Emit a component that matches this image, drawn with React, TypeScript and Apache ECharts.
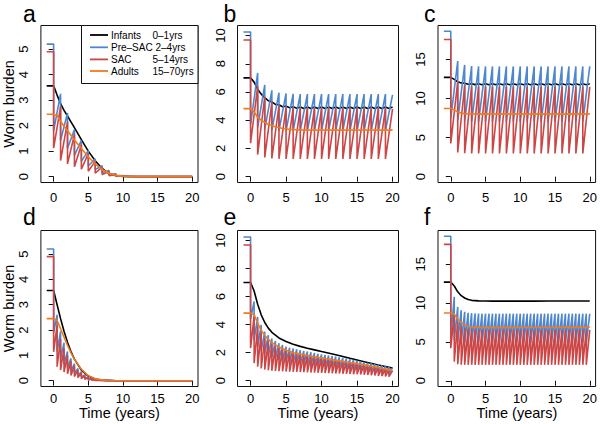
import React, { useEffect, useRef } from 'react';
import * as echarts from 'echarts';

// ---------- axes ----------
const X_TICKS = [0, 5, 10, 15, 20];
const Y_TICKS_SMALL = [0, 1, 2, 3, 4, 5];
const Y_TICKS_MID = [0, 2, 4, 6, 8, 10];
const Y_TICKS_BIG = [0, 5, 10, 15];

// time grid for smooth curves (years)
const T_SMOOTH = [0, 0.5, 1, 1.5, 2, 2.5, 3, 4, 5, 6, 7, 8, 9, 10, 12, 14, 16, 18, 20];
// half-year grid for curves with annual ripples
const T_HALF = [0, 0.5, 1, 1.5, 2, 2.5, 3, 3.5, 4, 4.5, 5, 5.5, 6, 6.5, 7, 7.5, 8, 8.5, 9, 9.5, 10, 10.5, 11, 11.5, 12, 12.5, 13, 13.5, 14, 14.5, 15, 15.5, 16, 16.5, 17, 17.5, 18, 18.5, 19, 19.5, 20];

// ---------- initial (pre-treatment) burdens: infants, preSAC, SAC, adults ----------
const INIT_LOW = [3.56, 5.2, 4.9, 2.45];
const INIT_MID = [7.0, 10.25, 9.68, 4.82];
const INIT_HIGH = [12.7, 18.6, 17.55, 8.72];

// ---------- panel a (annual treatment) ----------
const A_BLACK = [3.56, 3.2, 2.86, 2.6, 2.38, 2.15, 1.92, 1.45, 1.0, 0.62, 0.32, 0.12, 0.04, 0.01, 0, 0, 0, 0, 0];
const A_ORANGE = [2.45, 2.4, 2.17, 1.98, 1.8, 1.62, 1.44, 1.1, 0.78, 0.5, 0.28, 0.13, 0.05, 0.02, 0, 0, 0, 0, 0];
const A_BLUE_TROUGH = [1.8, 1.42, 1.1, 0.83, 0.6, 0.42, 0.28, 0.16, 0.08, 0.03, 0.01, 0, 0, 0, 0, 0, 0, 0, 0, 0];
const A_BLUE_PEAK = [3.25, 2.5, 1.85, 1.42, 1.02, 0.7, 0.43, 0.24, 0.11, 0.04, 0.01, 0, 0, 0, 0, 0, 0, 0, 0, 0];
const A_RED_TROUGH = [1.12, 0.63, 0.5, 0.39, 0.29, 0.21, 0.14, 0.08, 0.04, 0.02, 0.01, 0, 0, 0, 0, 0, 0, 0, 0, 0];
const A_RED_PEAK = [2.75, 2.15, 1.65, 1.25, 0.9, 0.6, 0.37, 0.2, 0.09, 0.03, 0.01, 0, 0, 0, 0, 0, 0, 0, 0, 0];

// ---------- panel b (annual treatment) ----------
const B_BLACK = [7.0, 6.7, 6.2, 5.85, 5.6, 5.38, 5.3, 5.12, 5.1, 4.96, 5.0, 4.88, 4.95, 4.85, 4.93, 4.83, 4.93, 4.83, 4.93, 4.83, 4.93, 4.83, 4.93, 4.83, 4.93, 4.83, 4.93, 4.83, 4.93, 4.83, 4.93, 4.83, 4.93, 4.83, 4.93, 4.83, 4.93, 4.83, 4.93, 4.83, 4.93];
const B_ORANGE = [4.82, 4.6, 4.2, 4.0, 3.85, 3.7, 3.62, 3.52, 3.48, 3.41, 3.4, 3.34, 3.36, 3.31, 3.33, 3.28, 3.33, 3.28, 3.33, 3.28, 3.33, 3.28, 3.33, 3.28, 3.33, 3.28, 3.33, 3.28, 3.33, 3.28, 3.33, 3.28, 3.33, 3.28, 3.33, 3.28, 3.33, 3.28, 3.33, 3.28, 3.32];
const B_BLUE_TROUGH = [3.7, 3.5, 3.35, 3.3, 3.27, 3.25, 3.25, 3.25, 3.25, 3.25, 3.25, 3.25, 3.25, 3.25, 3.25, 3.25, 3.25, 3.25, 3.25, 3.25];
const B_BLUE_PEAK = [7.35, 6.5, 6.12, 5.95, 5.9, 5.87, 5.85, 5.85, 5.85, 5.85, 5.85, 5.85, 5.85, 5.85, 5.85, 5.85, 5.85, 5.85, 5.85, 5.8];
const B_RED_TROUGH = [2.37, 1.57, 1.36, 1.29, 1.27, 1.26, 1.26, 1.26, 1.26, 1.26, 1.26, 1.26, 1.26, 1.26, 1.26, 1.26, 1.26, 1.26, 1.26, 1.26];
const B_RED_PEAK = [6.4, 5.65, 5.25, 5.02, 4.92, 4.87, 4.85, 4.85, 4.85, 4.85, 4.85, 4.85, 4.85, 4.85, 4.85, 4.85, 4.85, 4.85, 4.85, 4.8];

// ---------- panel c (annual treatment) ----------
const C_BLACK = [12.7, 12.45, 12.15, 12.0, 11.95, 11.82, 11.9, 11.78, 11.88, 11.77, 11.88, 11.77, 11.88, 11.77, 11.88, 11.77, 11.88, 11.77, 11.88, 11.77, 11.88, 11.77, 11.88, 11.77, 11.88, 11.77, 11.88, 11.77, 11.88, 11.77, 11.88, 11.77, 11.88, 11.77, 11.88, 11.77, 11.88, 11.77, 11.88, 11.77, 11.9];
const C_ORANGE = [8.72, 8.55, 8.28, 8.15, 8.07, 8.04, 8.05, 8.02, 8.04, 8.01, 8.04, 8.01, 8.04, 8.01, 8.04, 8.01, 8.04, 8.01, 8.04, 8.01, 8.04, 8.01, 8.04, 8.01, 8.04, 8.01, 8.04, 8.01, 8.04, 8.01, 8.04, 8.01, 8.04, 8.01, 8.04, 8.01, 8.04, 8.01, 8.04, 8.01, 8.04];
const C_BLUE_TROUGH = [7.5, 7.2, 7.1, 7.05, 7.05, 7.05, 7.05, 7.05, 7.05, 7.05, 7.05, 7.05, 7.05, 7.05, 7.05, 7.05, 7.05, 7.05, 7.05, 7.05];
const C_BLUE_PEAK = [14.8, 14.3, 14.15, 14.1, 14.1, 14.1, 14.1, 14.1, 14.1, 14.1, 14.1, 14.1, 14.1, 14.1, 14.1, 14.1, 14.1, 14.1, 14.1, 14.1];
const C_RED_TROUGH = [4.25, 3.1, 3.0, 2.98, 2.98, 2.98, 2.98, 2.98, 2.98, 2.98, 2.98, 2.98, 2.98, 2.98, 2.98, 2.98, 2.98, 2.98, 2.98, 2.98];
const C_RED_PEAK = [12.2, 11.7, 11.55, 11.5, 11.5, 11.5, 11.5, 11.5, 11.5, 11.5, 11.5, 11.5, 11.5, 11.5, 11.5, 11.5, 11.5, 11.5, 11.5, 11.5];

// ---------- panel d (six-monthly treatment) ----------
const D_BLACK = [3.56, 3.0, 2.45, 1.95, 1.52, 1.15, 0.85, 0.42, 0.18, 0.07, 0.02, 0.01, 0, 0, 0, 0, 0, 0, 0];
const D_ORANGE = [2.45, 2.38, 2.05, 1.72, 1.4, 1.1, 0.84, 0.45, 0.2, 0.08, 0.03, 0.01, 0, 0, 0, 0, 0, 0, 0];
const D_BLUE_TROUGH = [1.9, 1.15, 0.86, 0.66, 0.5, 0.39, 0.29, 0.21, 0.15, 0.1, 0.06, 0.035, 0.02, 0.01, 0, 0, 0, 0, 0, 0, 0, 0, 0, 0, 0, 0, 0, 0, 0, 0, 0, 0, 0, 0, 0, 0, 0, 0, 0, 0];
const D_BLUE_PEAK = [2.6, 1.95, 1.5, 1.15, 0.88, 0.67, 0.48, 0.35, 0.23, 0.14, 0.08, 0.04, 0.02, 0.01, 0, 0, 0, 0, 0, 0, 0, 0, 0, 0, 0, 0, 0, 0, 0, 0, 0, 0, 0, 0, 0, 0, 0, 0, 0, 0];
const D_RED_TROUGH = [1.14, 0.55, 0.42, 0.34, 0.27, 0.21, 0.16, 0.12, 0.08, 0.05, 0.03, 0.02, 0.01, 0.005, 0, 0, 0, 0, 0, 0, 0, 0, 0, 0, 0, 0, 0, 0, 0, 0, 0, 0, 0, 0, 0, 0, 0, 0, 0, 0];
const D_RED_PEAK = [2.2, 1.65, 1.28, 1.0, 0.77, 0.58, 0.42, 0.3, 0.2, 0.12, 0.07, 0.04, 0.02, 0.01, 0, 0, 0, 0, 0, 0, 0, 0, 0, 0, 0, 0, 0, 0, 0, 0, 0, 0, 0, 0, 0, 0, 0, 0, 0, 0];

// ---------- panel e (six-monthly treatment) ----------
const E_BLACK = [7.0, 6.4, 5.45, 4.7, 4.15, 3.75, 3.45, 3.05, 2.8, 2.6, 2.45, 2.32, 2.2, 2.08, 1.85, 1.6, 1.36, 1.12, 0.9];
const E_ORANGE = [4.82, 4.72, 4.1, 3.6, 3.22, 2.95, 2.72, 2.4, 2.17, 2.0, 1.9, 1.8, 1.7, 1.62, 1.45, 1.3, 1.13, 0.95, 0.72];
const E_BLUE_TROUGH = [4.4, 2.9, 2.4, 2.15, 1.95, 1.8, 1.68, 1.58, 1.5, 1.43, 1.37, 1.33, 1.29, 1.26, 1.22, 1.19, 1.16, 1.13, 1.1, 1.07, 1.04, 1.02, 0.99, 0.97, 0.94, 0.92, 0.89, 0.86, 0.83, 0.8, 0.77, 0.74, 0.71, 0.68, 0.66, 0.63, 0.6, 0.57, 0.54, 0.51];
const E_BLUE_PEAK = [5.65, 4.55, 3.98, 3.5, 3.25, 3.02, 2.83, 2.67, 2.55, 2.43, 2.36, 2.3, 2.24, 2.18, 2.12, 2.08, 2.03, 1.98, 1.93, 1.88, 1.84, 1.8, 1.76, 1.72, 1.67, 1.63, 1.58, 1.53, 1.48, 1.43, 1.38, 1.33, 1.28, 1.24, 1.19, 1.14, 1.09, 1.04, 0.98, 0.93];
const E_RED_TROUGH = [2.33, 1.26, 1.0, 0.88, 0.8, 0.75, 0.72, 0.7, 0.68, 0.67, 0.66, 0.65, 0.64, 0.63, 0.62, 0.61, 0.6, 0.59, 0.58, 0.57, 0.56, 0.55, 0.54, 0.53, 0.52, 0.51, 0.5, 0.49, 0.48, 0.47, 0.46, 0.45, 0.43, 0.41, 0.39, 0.37, 0.35, 0.33, 0.31, 0.29];
const E_RED_PEAK = [4.6, 3.85, 3.4, 3.02, 2.8, 2.6, 2.45, 2.33, 2.22, 2.12, 2.05, 1.99, 1.94, 1.89, 1.84, 1.8, 1.76, 1.72, 1.68, 1.64, 1.6, 1.56, 1.52, 1.48, 1.44, 1.4, 1.36, 1.32, 1.28, 1.24, 1.2, 1.16, 1.12, 1.07, 1.02, 0.97, 0.92, 0.87, 0.8, 0.73];

// ---------- panel f (six-monthly treatment) ----------
const F_BLACK = [12.7, 12.2, 11.45, 10.95, 10.65, 10.45, 10.35, 10.28, 10.26, 10.25, 10.25, 10.25, 10.25, 10.25, 10.25, 10.26, 10.26, 10.26, 10.27];
const F_ORANGE = [8.72, 8.55, 7.95, 7.5, 7.2, 7.02, 6.93, 6.88, 6.87, 6.87, 6.87, 6.87, 6.87, 6.88, 6.88, 6.89, 6.9, 6.9, 6.9];
const F_BLUE_TROUGH = [5.5, 5.2, 5.0, 4.95, 4.9, 4.9, 4.9, 4.9, 4.9, 4.9, 4.9, 4.9, 4.9, 4.9, 4.9, 4.9, 4.9, 4.9, 4.9, 4.9, 4.9, 4.9, 4.9, 4.9, 4.9, 4.9, 4.9, 4.9, 4.9, 4.9, 4.9, 4.9, 4.9, 4.9, 4.9, 4.9, 4.9, 4.9, 4.9, 4.9];
const F_BLUE_PEAK = [10.8, 9.5, 9.08, 8.87, 8.75, 8.7, 8.67, 8.65, 8.63, 8.63, 8.63, 8.63, 8.63, 8.63, 8.63, 8.63, 8.63, 8.63, 8.63, 8.63, 8.63, 8.63, 8.63, 8.63, 8.63, 8.63, 8.63, 8.63, 8.63, 8.63, 8.63, 8.63, 8.63, 8.63, 8.63, 8.63, 8.63, 8.63, 8.63, 8.6];
const F_RED_TROUGH = [4.18, 2.47, 2.13, 2.07, 2.05, 2.05, 2.05, 2.05, 2.05, 2.05, 2.05, 2.05, 2.05, 2.05, 2.05, 2.05, 2.05, 2.05, 2.05, 2.05, 2.05, 2.05, 2.05, 2.05, 2.05, 2.05, 2.05, 2.05, 2.05, 2.05, 2.05, 2.05, 2.05, 2.05, 2.05, 2.05, 2.05, 2.05, 2.05, 2.05];
const F_RED_PEAK = [8.6, 7.6, 7.05, 6.8, 6.7, 6.65, 6.62, 6.6, 6.58, 6.58, 6.58, 6.58, 6.58, 6.58, 6.58, 6.58, 6.58, 6.58, 6.58, 6.58, 6.58, 6.58, 6.58, 6.58, 6.58, 6.58, 6.58, 6.58, 6.58, 6.58, 6.58, 6.58, 6.58, 6.58, 6.58, 6.58, 6.58, 6.58, 6.58, 6.55];

const GROUPS = ['Infants', 'Pre–SAC', 'SAC', 'Adults'];
const AGES = ['0–1yrs', '2–4yrs', '5–14yrs', '15–70yrs'];
const COLORS = ['#000000', '#4f87cf', '#cc4646', '#f07b1e'];
const FONT = 'Liberation Sans, Arial, Helvetica, sans-serif';

function smooth(init: number, times: number[], vals: number[]) {
  return [[-1, init], ...times.map((t, i) => [t, vals[i]])];
}
function teeth(init: number, troughs: number[], peaks: number[], step: number) {
  const d: number[][] = [[-1, init], [0, init]];
  for (let i = 0; i < troughs.length; i++) {
    d.push([i * step, troughs[i]]);
    d.push([(i + 1) * step, peaks[i]]);
  }
  return d;
}

type Panel = {
  letter: string;
  init: number[];
  black: number[];
  blackT: number[];
  orange: number[];
  orangeT: number[];
  blueTr: number[];
  bluePk: number[];
  redTr: number[];
  redPk: number[];
  step: number;
  yTicks: number[];
  yMin: number;
  yMax: number;
};

const PANELS: Panel[] = [
  { letter: 'a', init: INIT_LOW, black: A_BLACK, blackT: T_SMOOTH, orange: A_ORANGE, orangeT: T_SMOOTH, blueTr: A_BLUE_TROUGH, bluePk: A_BLUE_PEAK, redTr: A_RED_TROUGH, redPk: A_RED_PEAK, step: 1, yTicks: Y_TICKS_SMALL, yMin: -0.23, yMax: 5.93 },
  { letter: 'b', init: INIT_MID, black: B_BLACK, blackT: T_HALF, orange: B_ORANGE, orangeT: T_HALF, blueTr: B_BLUE_TROUGH, bluePk: B_BLUE_PEAK, redTr: B_RED_TROUGH, redPk: B_RED_PEAK, step: 1, yTicks: Y_TICKS_MID, yMin: -0.41, yMax: 10.71 },
  { letter: 'c', init: INIT_HIGH, black: C_BLACK, blackT: T_HALF, orange: C_ORANGE, orangeT: T_HALF, blueTr: C_BLUE_TROUGH, bluePk: C_BLUE_PEAK, redTr: C_RED_TROUGH, redPk: C_RED_PEAK, step: 1, yTicks: Y_TICKS_BIG, yMin: -0.74, yMax: 19.34 },
  { letter: 'd', init: INIT_LOW, black: D_BLACK, blackT: T_SMOOTH, orange: D_ORANGE, orangeT: T_SMOOTH, blueTr: D_BLUE_TROUGH, bluePk: D_BLUE_PEAK, redTr: D_RED_TROUGH, redPk: D_RED_PEAK, step: 0.5, yTicks: Y_TICKS_SMALL, yMin: -0.23, yMax: 5.93 },
  { letter: 'e', init: INIT_MID, black: E_BLACK, blackT: T_SMOOTH, orange: E_ORANGE, orangeT: T_SMOOTH, blueTr: E_BLUE_TROUGH, bluePk: E_BLUE_PEAK, redTr: E_RED_TROUGH, redPk: E_RED_PEAK, step: 0.5, yTicks: Y_TICKS_MID, yMin: -0.41, yMax: 10.71 },
  { letter: 'f', init: INIT_HIGH, black: F_BLACK, blackT: T_SMOOTH, orange: F_ORANGE, orangeT: T_SMOOTH, blueTr: F_BLUE_TROUGH, bluePk: F_BLUE_PEAK, redTr: F_RED_TROUGH, redPk: F_RED_PEAK, step: 0.5, yTicks: Y_TICKS_BIG, yMin: -0.74, yMax: 19.34 },
];

const GRID_POS = [
  { left: 37, top: 25.5, width: 161, height: 157 },
  { left: 237.5, top: 25.5, width: 161, height: 157 },
  { left: 438, top: 25.5, width: 161, height: 157 },
  { left: 37, top: 230.5, width: 161, height: 156 },
  { left: 237.5, top: 230.5, width: 161, height: 156 },
  { left: 438, top: 230.5, width: 161, height: 156 },
];

export default function App() {
  const ref = useRef<HTMLDivElement>(null);
  useEffect(() => {
    if (!ref.current) return;
    const chart = echarts.init(ref.current, undefined, { renderer: 'svg' });
    const grid = GRID_POS.map((g) => ({ ...g, show: true, borderColor: '#111', borderWidth: 1, backgroundColor: 'transparent' }));
    const xAxis = PANELS.map((p, i) => ({
      type: 'value', gridIndex: i, min: -1.84, max: 20.84,
      axisLine: { show: false }, splitLine: { show: false },
      axisTick: { show: true, length: 5, customValues: X_TICKS, lineStyle: { color: '#111' } },
      axisLabel: { customValues: X_TICKS, color: '#000', fontSize: 13, fontFamily: FONT, margin: i >= 3 ? 5 : 8 },
      name: i >= 3 ? 'Time (years)' : '',
      nameLocation: 'middle', nameGap: 16,
      nameTextStyle: { fontSize: 14.5, color: '#000', fontFamily: FONT, fontWeight: 'normal' },
    }));
    const yAxis = PANELS.map((p, i) => ({
      type: 'value', gridIndex: i, min: p.yMin, max: p.yMax,
      axisLine: { show: false }, splitLine: { show: false },
      axisTick: { show: true, length: 5, customValues: p.yTicks, lineStyle: { color: '#111' } },
      axisLabel: { customValues: p.yTicks, color: '#000', fontSize: 13, fontFamily: FONT, rotate: 90, margin: 11 },
      name: i % 3 === 0 ? 'Worm burden' : '',
      nameLocation: 'middle', nameGap: 20,
      nameTextStyle: { fontSize: 14.5, color: '#000', fontFamily: FONT, fontWeight: 'normal' },
    }));
    const series: any[] = [];
    PANELS.forEach((p, i) => {
      const lines = [
        smooth(p.init[0], p.blackT, p.black),
        teeth(p.init[1], p.blueTr, p.bluePk, p.step),
        teeth(p.init[2], p.redTr, p.redPk, p.step),
        smooth(p.init[3], p.orangeT, p.orange),
      ];
      lines.forEach((data, k) => {
        series.push({
          type: 'line', xAxisIndex: i, yAxisIndex: i, data, showSymbol: false, symbol: 'none',
          lineStyle: { color: COLORS[k], width: 1.6 }, z: 2 + k, silent: true,
        });
      });
    });
    const letters = PANELS.map((p, i) => ({
      type: 'text', left: GRID_POS[i].left - 14, top: i < 3 ? 2 : 205,
      style: { text: p.letter, font: `23px ${FONT}`, fill: '#000' },
    }));
    const legY = [35, 47.3, 59.4, 71];
    const legend: any[] = [
      { type: 'rect', shape: { x: 81.5, y: 25.5, width: 116.5, height: 58 }, style: { fill: '#fff', stroke: '#111', lineWidth: 1 }, z: 10 },
    ];
    GROUPS.forEach((g, k) => {
      legend.push({ type: 'line', shape: { x1: 90, y1: legY[k], x2: 108, y2: legY[k] }, style: { stroke: COLORS[k], lineWidth: 1.8 }, z: 11 });
      legend.push({ type: 'text', x: 111, y: legY[k], style: { text: g, font: `10px ${FONT}`, fill: '#000', verticalAlign: 'middle' }, z: 11 });
      legend.push({ type: 'text', x: k === 1 ? 155.5 : 152.5, y: legY[k], style: { text: AGES[k], font: `10px ${FONT}`, fill: '#000', verticalAlign: 'middle' }, z: 11 });
    });
    chart.setOption({
      animation: false,
      textStyle: { fontFamily: FONT },
      grid, xAxis, yAxis, series,
      graphic: [...letters, ...legend],
    });
    return () => chart.dispose();
  }, []);
  return <div ref={ref} style={{ position: 'fixed', left: 0, top: 0, width: 600, height: 424, background: '#fff' }} />;
}
